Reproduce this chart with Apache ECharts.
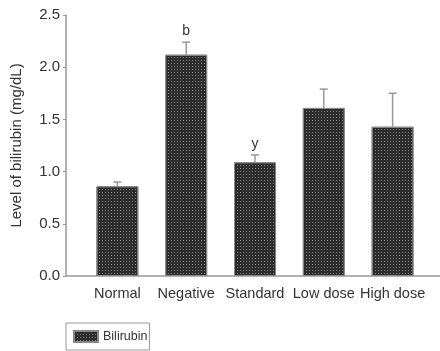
<!DOCTYPE html>
<html><head><meta charset="utf-8">
<script src="https://cdn.jsdelivr.net/npm/echarts@6/dist/echarts.min.js"></script>
<style>html,body{margin:0;padding:0;background:#fff}#c{width:440px;height:351px}</style>
</head><body><div id="c"></div>
<script>
const categories = ['Normal', 'Negative', 'Standard', 'Low dose', 'High dose'];
const means = [0.86, 2.12, 1.09, 1.61, 1.43];
const errors = [0.04, 0.12, 0.07, 0.18, 0.32];
const sigLabels = ['', 'b', 'y', '', ''];
const yTicks = [0, 0.5, 1.0, 1.5, 2.0, 2.5];
const seriesName = 'Bilirubin';
const yTitle = 'Level of bilirubin (mg/dL)';

const font = 'Liberation Sans, Arial, sans-serif';
const chart = echarts.init(document.getElementById('c'), null, {renderer: 'canvas'});
const errData = means.map((m, i) => [i, m, m + errors[i], sigLabels[i]]);
const decal = {symbol: 'rect', symbolSize: 1, dashArrayX: [1, 2], dashArrayY: [1, 2], color: 'rgba(140,140,140,0.9)'};
chart.setOption({
  animation: false,
  grid: [
    {left: 66, right: 0, top: 15, bottom: 75},
    {left: 83, width: 344, top: 15, bottom: 75}
  ],
  legend: {
    data: [{name: seriesName, icon: 'rect'}], left: 66, top: 323, orient: 'horizontal',
    itemWidth: 24, itemHeight: 11, padding: [7, 2, 7, 7],
    borderColor: '#999', borderWidth: 1,
    textStyle: {fontFamily: font, fontSize: 12.5, color: '#333'}
  },
  xAxis: [
    {type: 'value', gridIndex: 0, min: 0, max: 1, axisLine: {show: true, lineStyle: {color: '#999', width: 1.5}},
     axisTick: {show: false}, axisLabel: {show: false}, splitLine: {show: false}},
    {type: 'category', gridIndex: 1, data: categories, axisLine: {show: false}, axisTick: {show: false},
     axisLabel: {interval: 0, fontFamily: font, fontSize: 14.5, color: '#333', margin: 10}}
  ],
  yAxis: [
    {type: 'value', gridIndex: 0, min: yTicks[0], max: yTicks[yTicks.length - 1], interval: 0.5,
     axisLine: {show: true, lineStyle: {color: '#999', width: 1.5}},
     axisTick: {show: true, length: 3, lineStyle: {color: '#999'}},
     axisLabel: {fontFamily: font, fontSize: 15, color: '#333', margin: 6, formatter: v => v.toFixed(1)},
     splitLine: {show: false},
     name: yTitle, nameLocation: 'middle', nameGap: 42, nameRotate: 90,
     nameTextStyle: {fontFamily: font, fontSize: 15, color: '#333'}},
    {type: 'value', gridIndex: 1, min: yTicks[0], max: yTicks[yTicks.length - 1], show: false}
  ],
  series: [
    {name: seriesName, type: 'bar', xAxisIndex: 1, yAxisIndex: 1, data: means, barWidth: 42,
     itemStyle: {color: '#2c2c2c', borderColor: '#888', borderWidth: 1, decal: decal}},
    {type: 'custom', xAxisIndex: 1, yAxisIndex: 1, data: errData, z: 3,
     renderItem: function (params, api) {
       const base = api.coord([api.value(0), api.value(1)]);
       const top = api.coord([api.value(0), api.value(2)]);
       const label = sigLabels[params.dataIndex];
       const children = [
         {type: 'line', shape: {x1: base[0], y1: base[1], x2: top[0], y2: top[1]}, style: {stroke: '#999', lineWidth: 1.5}},
         {type: 'line', shape: {x1: top[0] - 4, y1: top[1], x2: top[0] + 4, y2: top[1]}, style: {stroke: '#999', lineWidth: 1.5}}
       ];
       if (label) children.push({type: 'text', x: top[0], y: top[1] - 4,
         style: {text: label, fontFamily: font, fontSize: 14, fill: '#333', align: 'center', verticalAlign: 'bottom'}});
       return {type: 'group', children: children};
     }}
  ]
});
</script></body></html>
